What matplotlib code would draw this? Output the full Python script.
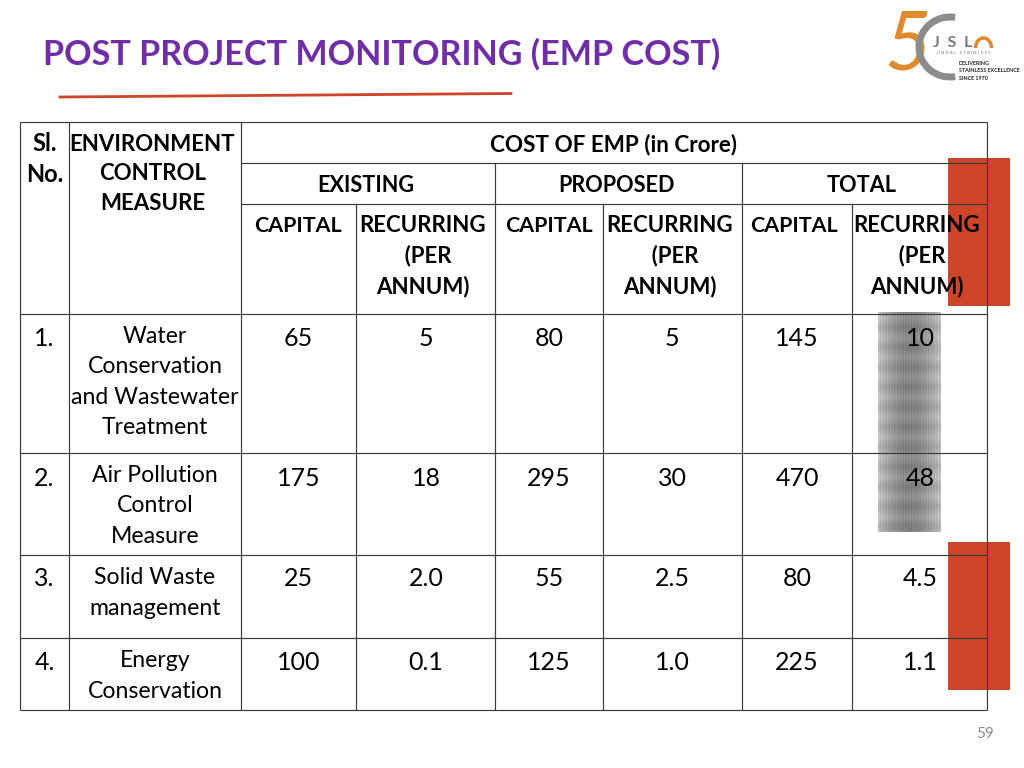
import numpy as np
import matplotlib
matplotlib.use("Agg")
import matplotlib.pyplot as plt
from matplotlib.patches import Rectangle, Arc

plt.rcParams['font.family'] = ['Lato', 'DejaVu Sans']

title = "POST PROJECT MONITORING (EMP COST)"
serials = ["1.", "2.", "3.", "4."]
measures = ["Water\nConservation\nand Wastewater\nTreatment",
            "Air Pollution\nControl\nMeasure",
            "Solid Waste\nmanagement",
            "Energy\nConservation"]
existing_capital = ["65", "175", "25", "100"]
existing_recurring = ["5", "18", "2.0", "0.1"]
proposed_capital = ["80", "295", "55", "125"]
proposed_recurring = ["5", "30", "2.5", "1.0"]
total_capital = ["145", "470", "80", "225"]
total_recurring = ["10", "48", "4.5", "1.1"]
value_columns = [existing_capital, existing_recurring, proposed_capital,
                 proposed_recurring, total_capital, total_recurring]

X = [20, 69, 241, 356, 495, 603, 742, 852, 987]
Y = [122, 163, 204, 314, 453, 555, 638, 710]
LINE = "#3a3a3a"

fig = plt.figure(figsize=(10.24, 7.68), dpi=100)
ax = fig.add_axes([0, 0, 1, 1])

# decorative shapes behind the table
RED = "#cf4327"
u = np.linspace(0, 1, 63)
v = np.linspace(0, 1, 220)
uu, vv = np.meshgrid(u, v)
shade = 0.74 - 0.22 * np.sin(np.pi * uu) + 0.035 * np.sin(2 * np.pi * vv * 11) \
        + 0.03 * np.sin(2 * np.pi * uu * 22)
ax.imshow(shade, extent=(878, 941, 532, 312), cmap="gray", vmin=0, vmax=1,
          aspect="auto", zorder=1, interpolation="bilinear")
ax.set_xlim(0, 1024)
ax.set_ylim(768, 0)
ax.axis("off")
ax.add_patch(Rectangle((948, 158), 62, 148, color=RED, lw=0, zorder=1))
ax.add_patch(Rectangle((948, 542), 62, 148, color=RED, lw=0, zorder=1))

# title and underline
ax.text(43, 54, title, color="#6f2da8", fontsize=24.6, fontweight="bold",
        va="center", ha="left", zorder=5)
ax.plot([60, 511], [97, 93.5], color=RED, lw=2.0, zorder=3)

# table rules
def h(y, a, b):
    ax.plot([a, b], [y, y], color=LINE, lw=0.85, zorder=3, solid_capstyle="butt")
def v_(x, a, b):
    ax.plot([x, x], [a, b], color=LINE, lw=0.85, zorder=3, solid_capstyle="butt")

h(Y[0], X[0], X[8])
h(Y[1], X[2], X[8])
h(Y[2], X[2], X[8])
for y in Y[3:]:
    h(y, X[0], X[8])
for x in (X[0], X[1], X[2], X[8]):
    v_(x, Y[0], Y[-1])
for x in (X[4], X[6]):
    v_(x, Y[1], Y[-1])
for x in (X[3], X[5], X[7]):
    v_(x, Y[2], Y[-1])

def t(x, y, s, fs=16.0, weight="bold", ha="center", va="center", ls=1.49):
    ax.text(x, y, s, fontsize=fs, fontweight=weight, ha=ha, va=va, color="black",
            zorder=6, linespacing=ls, multialignment="center")

t(44.5, 159, "Sl.\nNo.", fs=17, ls=1.42)
t(152.5, 174, "ENVIRONMENT\nCONTROL\nMEASURE")
t(614, 144.5, "COST OF EMP (in Crore)", fs=16.2)
t(365.5, 186, "EXISTING", fs=15.6)
t(616, 186, "PROPOSED", fs=15.6)
t(861.5, 186, "TOTAL", fs=15.6)
for cx in (298, 548.5, 793.5):
    t(cx, 226, "CAPITAL", fs=15.4)
for cx in (423, 670, 917):
    t(cx, 256, "RECURRING\n  (PER\nANNUM)")

# body
VFS = 18
rows_top = [339, 478, 579, 663]
meas_centre = [382, 506, 593, 676]
for i in range(4):
    t(44.5, rows_top[i], serials[i], fs=VFS, weight="normal")
    t(155, meas_centre[i], measures[i], fs=16.6, weight="normal", ls=1.56)
    for cx, col in zip((298.5, 426, 549, 672, 797, 920), value_columns):
        t(cx, rows_top[i], col[i], fs=VFS, weight="normal")

ax.text(994, 734, "59", fontsize=11, color="#8a8a8a", ha="right", va="center", zorder=6)

# logo
ORANGE = "#e08a2e"
GREY = "#8c8c8c"
ax.text(908, 47, "5", fontsize=58, color=ORANGE, fontstyle="italic", ha="center", va="center", zorder=6)
ax.add_patch(Arc((950, 47), 62, 60, theta1=80, theta2=280, color=GREY, lw=5, zorder=6))
ax.text(953, 43, "J  S  L", fontsize=11.5, fontweight="bold", color="#7a7a7a", ha="center", va="center", zorder=7)
ax.add_patch(Arc((983.5, 48), 16, 20, theta1=180, theta2=360, color=ORANGE, lw=2.5, zorder=7))
ax.text(963, 53, "J I N D A L   S T A I N L E S S", fontsize=3.2, color="#7a7a7a", ha="center", va="center", zorder=7)
ax.text(959, 71, "DELIVERING\nSTAINLESS EXCELLENCE\nSINCE 1970", fontsize=3.9, fontweight="bold",
        color="#222222", ha="left", va="center", linespacing=1.6, zorder=7)

fig.savefig("out.png", dpi=100)
